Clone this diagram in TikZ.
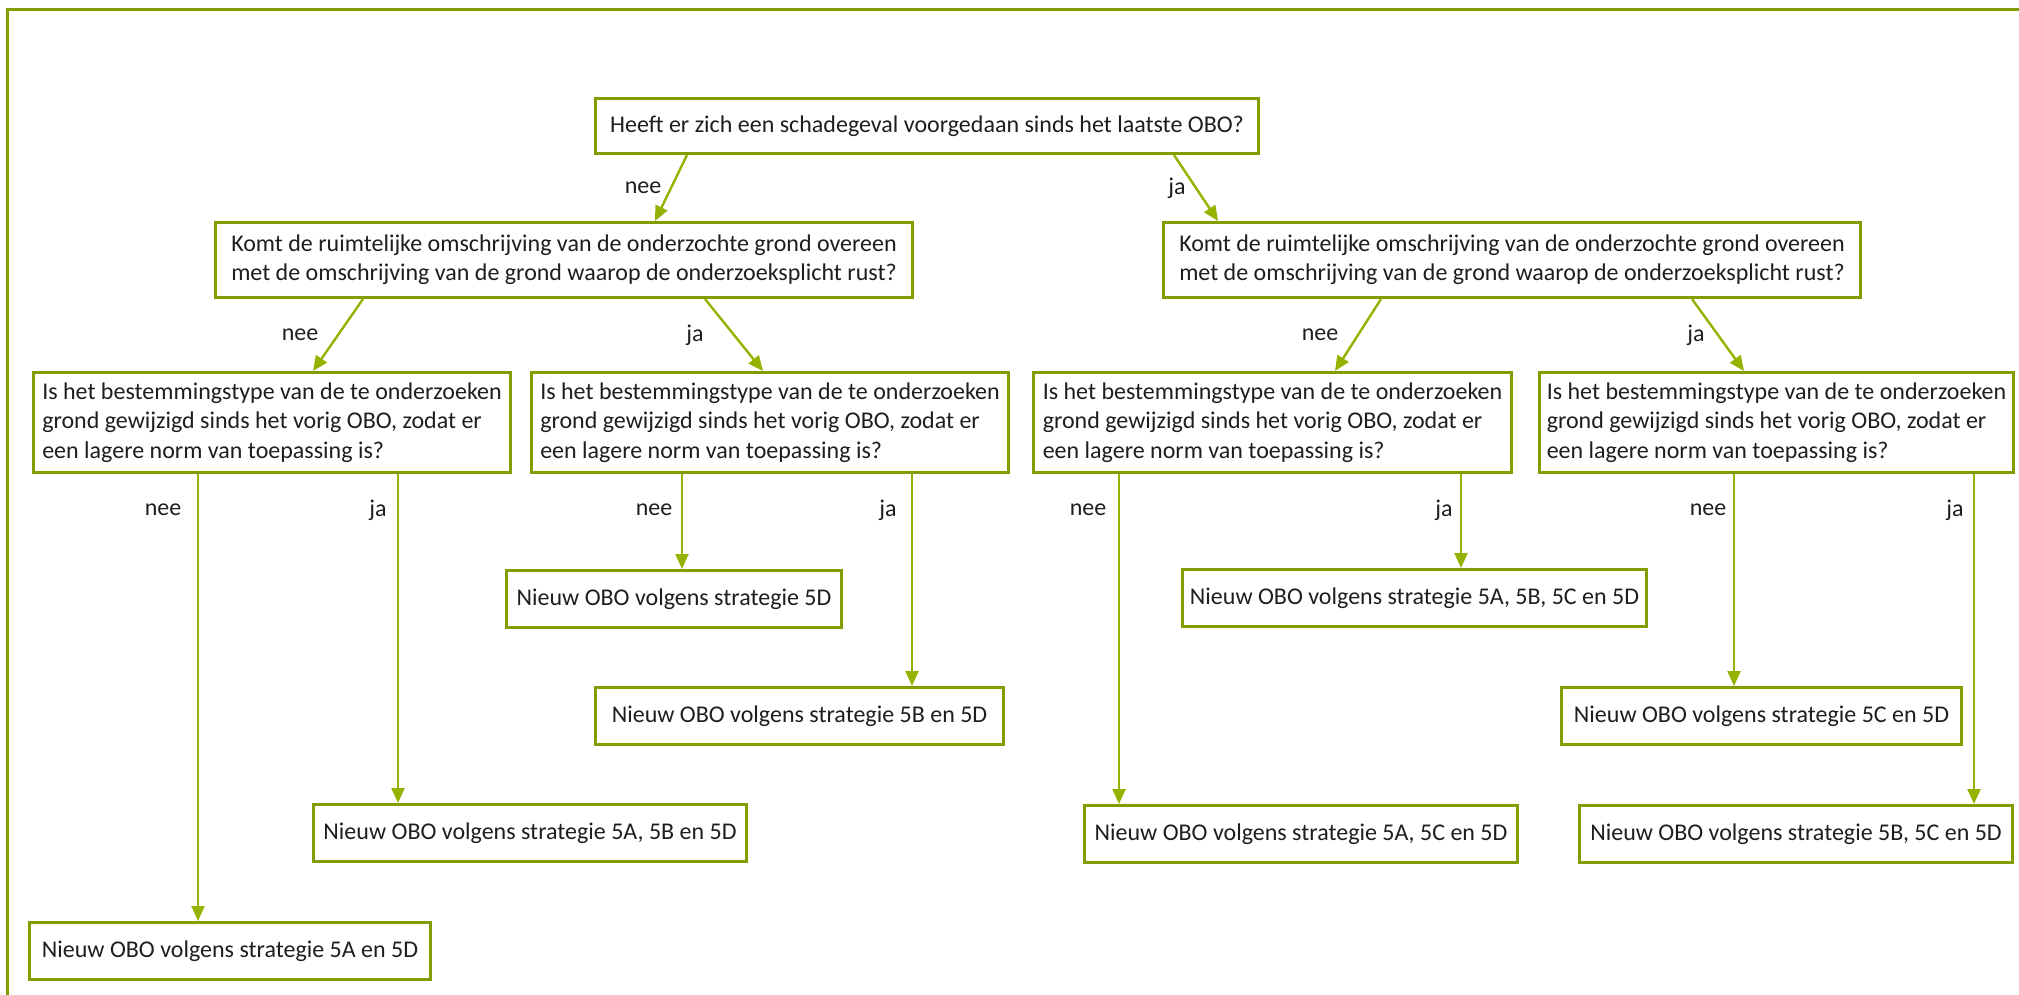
\documentclass[tikz,border=0pt]{standalone}
\usepackage{fontspec}
\setmainfont{Carlito}
\usetikzlibrary{arrows.meta,calc}
\definecolor{boxgreen}{RGB}{128,158,0}
\definecolor{arrgreen}{RGB}{148,178,0}
\definecolor{txt}{RGB}{30,30,30}
\tikzset{
  qbox/.style={draw=boxgreen, line width=3pt, fill=white, inner sep=0pt, align=left,
    anchor=north west, text=txt, font=\fontsize{24}{29.3}\selectfont, minimum height=57pt},
  lbl/.style={text=txt, font=\fontsize{24}{29.3}\selectfont, inner sep=0pt},
  arr/.style={draw=arrgreen, line width=2.4pt, -{Triangle[length=15pt,width=13pt]}},
}
\begin{document}
\begin{tikzpicture}[x=1pt,y=-1pt]
\useasboundingbox (0,0) rectangle (2019,995);
% outer frame (partly visible)
\draw[boxgreen, line width=3pt] (7,1000) -- (7,10) -- (2025,10);

% questions
\node[qbox, minimum width=663, minimum height=55] (q1) at (594,97)
  {\raisebox{-3pt}{Heeft er zich een schadegeval voorgedaan sinds het laatste OBO?}};
\node[qbox, minimum width=697, minimum height=75] (q2l) at (214,221)
  {Komt de ruimtelijke omschrijving van de onderzochte grond overeen\\met de omschrijving van de grond waarop de onderzoeksplicht rust?};
\node[qbox, minimum width=697, minimum height=75] (q2r) at (1162,221)
  {Komt de ruimtelijke omschrijving van de onderzochte grond overeen\\met de omschrijving van de grond waarop de onderzoeksplicht rust?};
\node[qbox, minimum width=477, minimum height=100] (q3a) at (32,371)
  {Is het bestemmingstype van de te onderzoeken\\grond gewijzigd sinds het vorig OBO, zodat er\\een lagere norm van toepassing is?};
\node[qbox, minimum width=477, minimum height=100] (q3b) at (530,371)
  {Is het bestemmingstype van de te onderzoeken\\grond gewijzigd sinds het vorig OBO, zodat er\\een lagere norm van toepassing is?};
\node[qbox, minimum width=478, minimum height=100] (q3c) at (1032,371)
  {Is het bestemmingstype van de te onderzoeken\\grond gewijzigd sinds het vorig OBO, zodat er\\een lagere norm van toepassing is?};
\node[qbox, minimum width=474, minimum height=100] (q3d) at (1538,371)
  {Is het bestemmingstype van de te onderzoeken\\grond gewijzigd sinds het vorig OBO, zodat er\\een lagere norm van toepassing is?};

% results
\node[qbox, minimum width=401] (l1) at (28,921)   {Nieuw OBO volgens strategie 5A en 5D};
\node[qbox, minimum width=433] (l2) at (312,803)  {Nieuw OBO volgens strategie 5A, 5B en 5D};
\node[qbox, minimum width=335] (l3) at (505,569)  {Nieuw OBO volgens strategie 5D};
\node[qbox, minimum width=408] (l4) at (594,686)  {Nieuw OBO volgens strategie 5B en 5D};
\node[qbox, minimum width=433] (l5) at (1083,804) {Nieuw OBO volgens strategie 5A, 5C en 5D};
\node[qbox, minimum width=464] (l6) at (1181,568) {Nieuw OBO volgens strategie 5A, 5B, 5C en 5D};
\node[qbox, minimum width=400] (l7) at (1560,686) {Nieuw OBO volgens strategie 5C en 5D};
\node[qbox, minimum width=433] (l8) at (1578,804) {Nieuw OBO volgens strategie 5B, 5C en 5D};

% connectors
\draw[arr] ($(q1.south west)+(93,0)$)   -- ($(q2l.north west)+(441,0)$);
\draw[arr] ($(q1.south west)+(580,0)$)  -- ($(q2r.north west)+(56,0)$);
\draw[arr] ($(q2l.south west)+(149,0)$) -- ($(q3a.north west)+(281,0)$);
\draw[arr] ($(q2l.south west)+(491,0)$) -- ($(q3b.north west)+(233,0)$);
\draw[arr] ($(q2r.south west)+(219,0)$) -- ($(q3c.north west)+(303,0)$);
\draw[arr] ($(q2r.south west)+(530,0)$) -- ($(q3d.north west)+(206,0)$);
\draw[arr] ($(q3a.south west)+(166,0)$) -- ($(l1.north west)+(170,0)$);
\draw[arr] ($(q3a.south west)+(366,0)$) -- ($(l2.north west)+(86,0)$);
\draw[arr] ($(q3b.south west)+(152,0)$) -- ($(l3.north west)+(177,0)$);
\draw[arr] ($(q3b.south west)+(382,0)$) -- ($(l4.north west)+(318,0)$);
\draw[arr] ($(q3c.south west)+(87,0)$)  -- ($(l5.north west)+(36,0)$);
\draw[arr] ($(q3c.south west)+(429,0)$) -- ($(l6.north west)+(280,0)$);
\draw[arr] ($(q3d.south west)+(196,0)$) -- ($(l7.north west)+(174,0)$);
\draw[arr] ($(q3d.south west)+(436,0)$) -- ($(l8.north west)+(396,0)$);

% labels
\node[lbl] (t1) at (643,188) {nee};
\node[lbl] (t2) at (1177,188) {ja};
\node[lbl] (t3) at (300,335) {nee};
\node[lbl] (t4) at (695,335) {ja};
\node[lbl] (t5) at (1320,335) {nee};
\node[lbl] (t6) at (1696,335) {ja};
\node[lbl] (t7) at (163,510) {nee};
\node[lbl] (t8) at (378,510) {ja};
\node[lbl] (t9) at (654,510) {nee};
\node[lbl] (t10) at (888,510) {ja};
\node[lbl] (t11) at (1088,510) {nee};
\node[lbl] (t12) at (1444,510) {ja};
\node[lbl] (t13) at (1708,510) {nee};
\node[lbl] (t14) at (1955,510) {ja};
\end{tikzpicture}
\end{document}
